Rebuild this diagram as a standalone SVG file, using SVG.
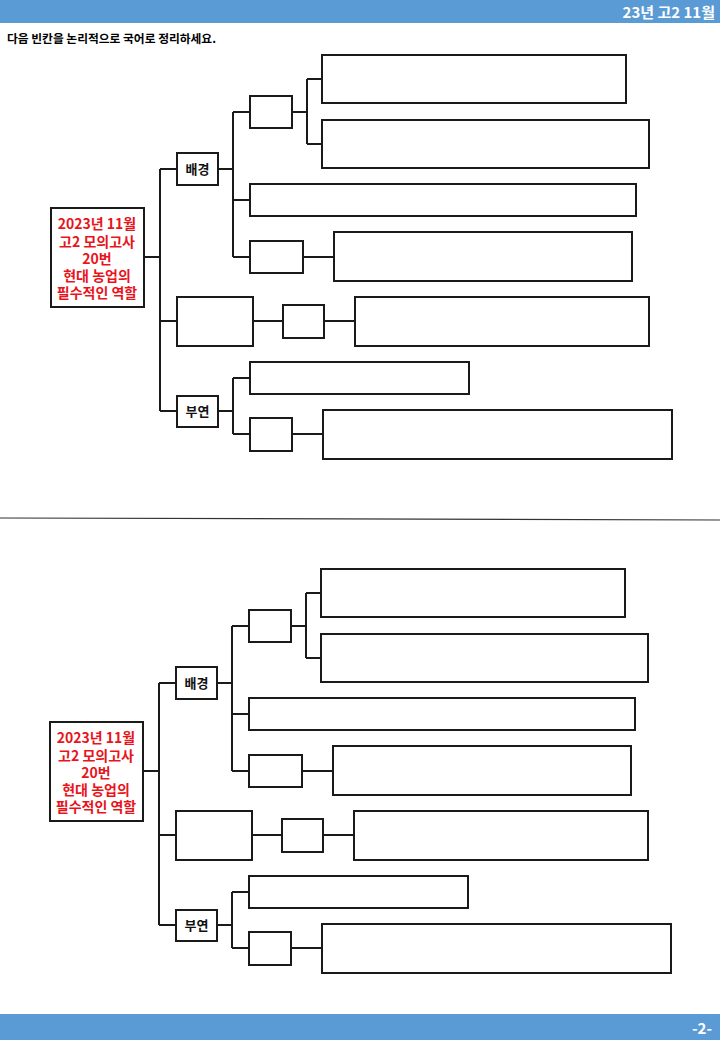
<svg xmlns="http://www.w3.org/2000/svg" width="720" height="1040" viewBox="0 0 720 1040">
<style>
.bar{fill:#5b9bd5}
.bt{fill:#fff;font-family:"Noto Sans CJK KR","Noto Sans",sans-serif;font-weight:bold}
.box{fill:#fff;stroke:#1a1a1a;stroke-width:2}
.ln{fill:none;stroke:#1a1a1a;stroke-width:2}
.main{fill:#e8141c;font-family:"Noto Sans CJK KR","Noto Sans",sans-serif;font-weight:bold;font-size:14px;text-anchor:middle}
.lbl{fill:#111;font-family:"Noto Sans CJK KR","Noto Sans",sans-serif;font-weight:bold;font-size:13px;text-anchor:middle}
</style>
<defs>
<g id="tree">
  <g class="conn">
    <path class="ln" d="M144,257 H160 M160,169 V411 M160,169 H177 M160,321 H177 M160,411 H177"/>
    <path class="ln" d="M218,169 H233 M233,112 V257 M233,112 H250 M233,200 H250 M233,257 H250"/>
    <path class="ln" d="M292,112 H307 M307,79 V144 M307,79 H322 M307,144 H322"/>
    <path class="ln" d="M303,257 H334"/>
    <path class="ln" d="M253,321 H283 M324,321 H355"/>
    <path class="ln" d="M218,411 H233 M233,378 V434 M233,378 H250 M233,434 H250 M292,434 H323"/>
  </g>
  <g id="n-main"><rect class="box" x="51" y="208" width="93" height="99"/>
    <text class="main" x="97" y="229">2023년 11월</text>
    <text class="main" x="97" y="247">고2 모의고사</text>
    <text class="main" x="97" y="264">20번</text>
    <text class="main" x="97" y="281">현대 농업의</text>
    <text class="main" x="97" y="298">필수적인 역할</text>
  </g>
  <g id="n-bg"><rect class="box" x="177" y="153" width="41" height="32"/><text class="lbl" x="197.5" y="174">배경</text></g>
  <g id="n-b1"><rect class="box" x="250" y="96" width="42" height="32"/></g>
  <g id="n-b2"><rect class="box" x="322" y="55" width="304" height="48"/></g>
  <g id="n-b3"><rect class="box" x="322" y="120" width="327" height="48"/></g>
  <g id="n-b4"><rect class="box" x="250" y="184" width="386" height="32"/></g>
  <g id="n-b5"><rect class="box" x="250" y="241" width="53" height="32"/></g>
  <g id="n-b6"><rect class="box" x="334" y="232" width="298" height="49"/></g>
  <g id="n-c1"><rect class="box" x="177" y="297" width="76" height="49"/></g>
  <g id="n-c2"><rect class="box" x="283" y="305" width="41" height="33"/></g>
  <g id="n-c3"><rect class="box" x="355" y="297" width="294" height="49"/></g>
  <g id="n-by"><rect class="box" x="177" y="396" width="41" height="31"/><text class="lbl" x="197.5" y="416">부연</text></g>
  <g id="n-d1"><rect class="box" x="250" y="362" width="219" height="32"/></g>
  <g id="n-d2"><rect class="box" x="250" y="418" width="42" height="33"/></g>
  <g id="n-d3"><rect class="box" x="323" y="410" width="349" height="49"/></g>
</g>
</defs>
<rect width="720" height="1040" fill="#fff"/>
<rect class="bar" x="0" y="0" width="720" height="23"/>
<text class="bt" x="715" y="18" font-size="15" text-anchor="end">23년 고2 11월</text>
<text x="7" y="43" font-family="'Noto Sans CJK KR','Noto Sans',sans-serif" font-weight="bold" font-size="11.5" fill="#000" textLength="209" lengthAdjust="spacingAndGlyphs">다음 빈칸을 논리적으로 국어로 정리하세요.</text>
<g id="diagram-top"><use href="#tree"/></g>
<line x1="0" y1="518" x2="720" y2="520" stroke="#333" stroke-width="1.2"/>
<g id="diagram-bottom" transform="translate(-1,514)"><use href="#tree"/></g>
<rect class="bar" x="0" y="1014" width="720" height="26"/>
<text class="bt" x="712" y="1034" font-size="15" text-anchor="end">-2-</text>
</svg>
